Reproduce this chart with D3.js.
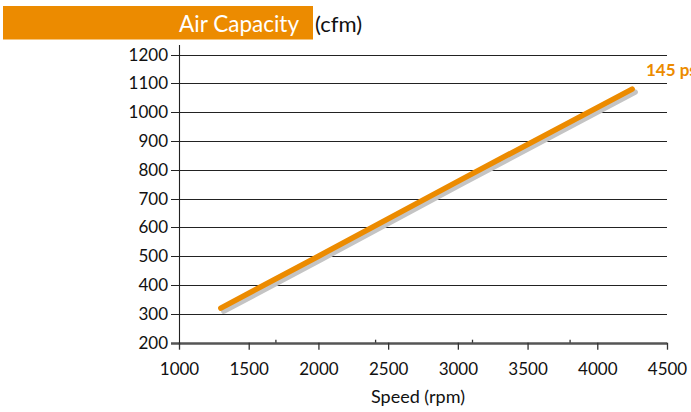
<!DOCTYPE html>
<html>
<head>
<meta charset="utf-8">
<script src="https://cdn.jsdelivr.net/npm/d3@7"></script>
<style>
html,body{margin:0;padding:0;background:#fff;overflow:hidden;}
svg{display:block;font-family:Lato, "Open Sans", sans-serif;}
</style>
</head>
<body>
<div id="chart"></div>
<script>
const speedRpm = [1300, 2000, 3000, 4250];
const airCfm = [320, 500, 760, 1080];
const xTicks = [1000, 1500, 2000, 2500, 3000, 3500, 4000, 4500];
const xMinorTicks = [1695, 2410, 3105, 3805];
const yTicks = [200, 300, 400, 500, 600, 700, 800, 900, 1000, 1100, 1200];
const titleMain = "Air Capacity";
const titleUnit = "(cfm)";
const xTitle = "Speed (rpm)";
const seriesLabel = "145 psi";

const W = 691, H = 412;
const svg = d3.select("#chart").append("svg").attr("width", W).attr("height", H);

const x = d3.scaleLinear().domain([1000, 4500]).range([179, 667]);
const y = d3.scaleLinear().domain([200, 1200]).range([342.7, 54.5]);

// Title band
svg.append("rect").attr("x", 3).attr("y", 6).attr("width", 310).attr("height", 33.5).attr("fill", "#EC8B00");
svg.append("text").attr("x", 299).attr("y", 31.5).attr("text-anchor", "end")
  .attr("fill", "#fff").attr("font-size", 22.5).text(titleMain);
svg.append("text").attr("x", 315).attr("y", 31.5).attr("fill", "#111")
  .attr("font-size", 22).text(titleUnit);

// Gridlines
svg.append("g").selectAll("line").data(yTicks).join("line")
  .attr("x1", 171).attr("x2", 667)
  .attr("y1", d => Math.round(y(d)) + 0.5).attr("y2", d => Math.round(y(d)) + 0.5)
  .attr("stroke", d => d === 200 ? "#555" : "#222").attr("stroke-width", d => d === 200 ? 2.5 : 1.1);

// Y axis line
svg.append("line").attr("x1", 179.5).attr("x2", 179.5).attr("y1", 45).attr("y2", 345)
  .attr("stroke", "#222").attr("stroke-width", 1.1);

// Y labels
svg.append("g").selectAll("text").data(yTicks).join("text")
  .attr("x", 168).attr("y", d => y(d) + 6).attr("text-anchor", "end")
  .attr("font-size", 17).attr("fill", "#111").text(d => d);

// X axis via d3
const xAxis = d3.axisBottom(x).tickValues(xTicks).tickSize(7).tickSizeOuter(0).tickFormat(d => d);
const gx = svg.append("g").attr("transform", `translate(0,${y(200)})`).call(xAxis);
gx.select(".domain").remove();
gx.selectAll(".tick line").attr("stroke", "#333").attr("stroke-width", 1.3);
gx.selectAll(".tick text").attr("font-size", 17).attr("fill", "#111").attr("dy", 0).attr("y", 32.5)
  .style("font-family", "Lato, 'Open Sans', sans-serif");

// Minor upward ticks
svg.append("g").selectAll("line").data(xMinorTicks).join("line")
  .attr("x1", d => x(d)).attr("x2", d => x(d))
  .attr("y1", y(200) - 3).attr("y2", y(200))
  .attr("stroke", "#333").attr("stroke-width", 1.3);

// X title
svg.append("text").attr("x", 418).attr("y", 403).attr("text-anchor", "middle")
  .attr("font-size", 18).attr("fill", "#111").text(xTitle);

// Series line with shadow
const pts = speedRpm.map((s, i) => [s, airCfm[i]]);
const line = d3.line().x(d => x(d[0])).y(d => y(d[1]));
svg.append("path").datum(pts).attr("d", line).attr("transform", "translate(3,3)")
  .attr("fill", "none").attr("stroke", "#c4c4c4").attr("stroke-width", 5.5).attr("stroke-linecap", "round");
svg.append("path").datum(pts).attr("d", line)
  .attr("fill", "none").attr("stroke", "#EC8B00").attr("stroke-width", 5.5).attr("stroke-linecap", "round");

// Series label (cut off at the right edge, as in the reference)
svg.append("text").attr("x", 646).attr("y", 75.5).attr("fill", "#EC8B00")
  .attr("font-size", 17).attr("font-weight", "bold").text(seriesLabel);
</script>
</body>
</html>
